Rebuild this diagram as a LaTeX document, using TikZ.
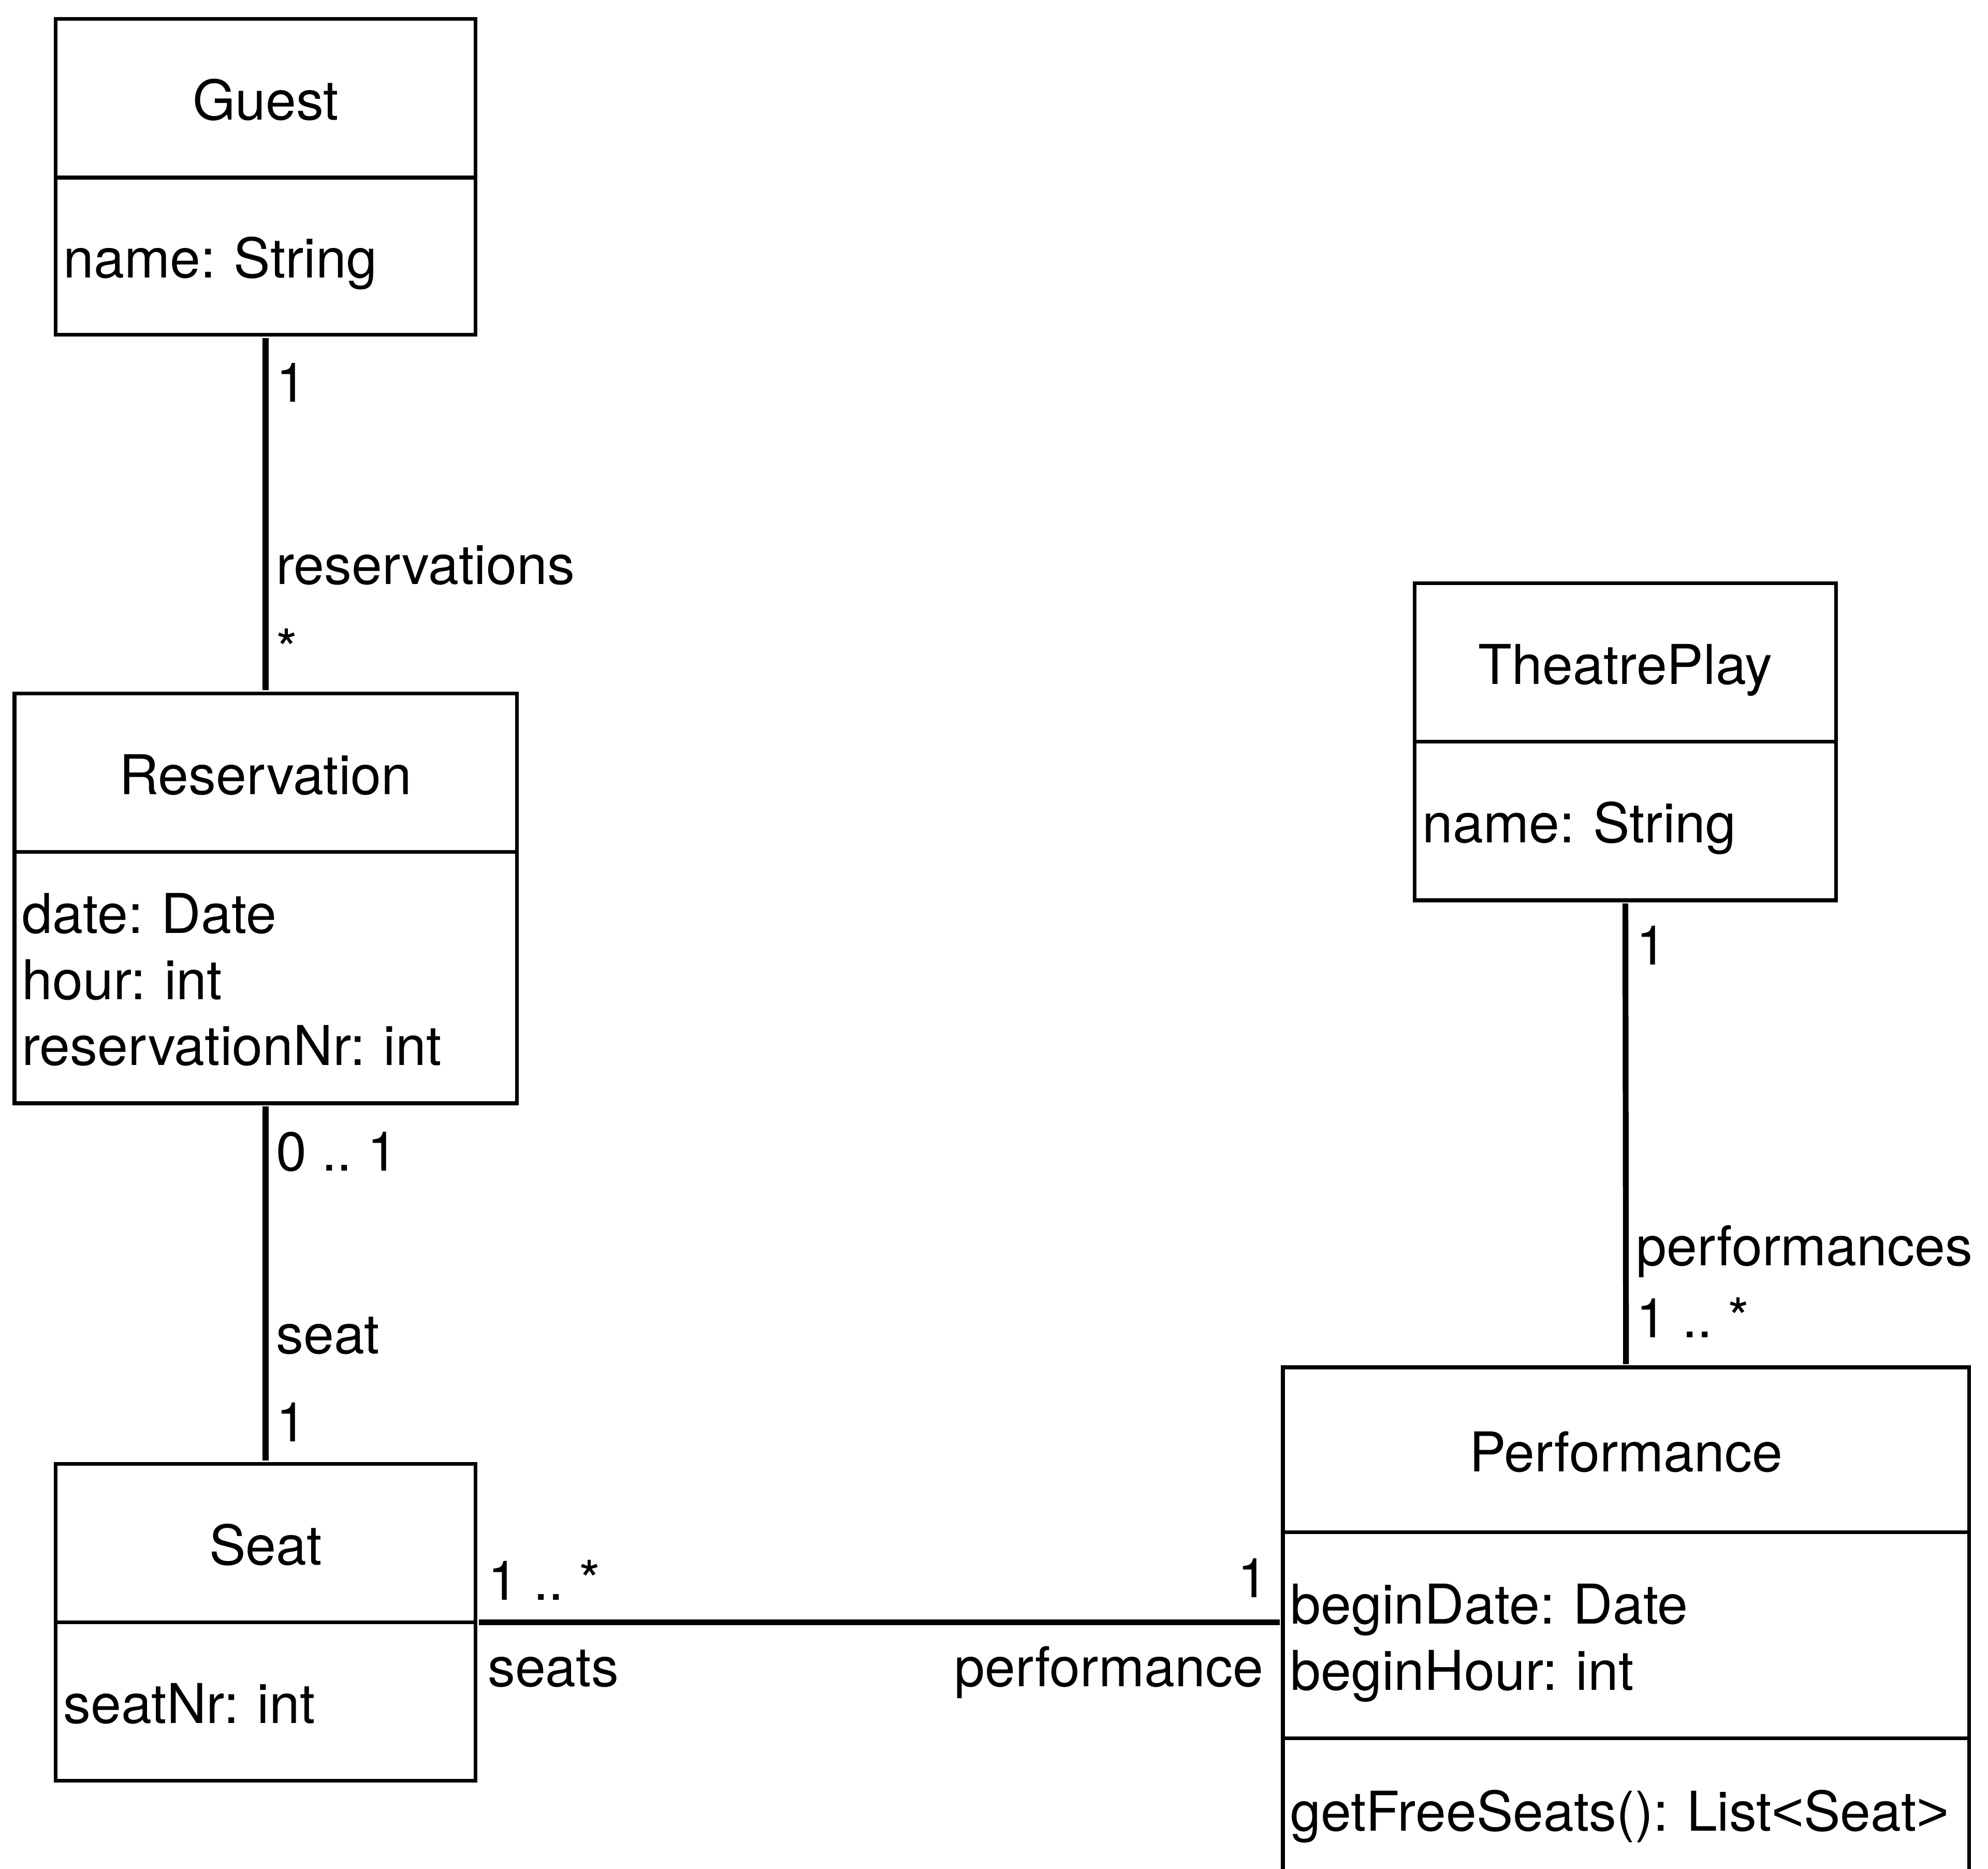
\documentclass[tikz,border=0pt]{standalone}
\usepackage{fontspec}
\setmainfont{TeX Gyre Heros}
\newfontfamily\brk{Liberation Sans}
\frenchspacing
\usepackage{tikz}
\usetikzlibrary{positioning}
\tikzset{
    classhead/.style={draw=black, line width=0.85pt, outer sep=0pt, inner sep=0pt, minimum height=1.25cm, text height=9.7pt, text depth=0pt},
    classbody/.style={draw=black, line width=0.85pt, outer sep=0pt, inner xsep=0.06cm, inner ysep=0pt, align=left, text width=#1, text height=9.7pt},
    assoc/.style={draw=black, line width=1.3pt, shorten <=0.025cm, shorten >=0.025cm},
    endlabel/.style={inner sep=0pt, anchor=base west},
    endlabelr/.style={inner sep=0pt, anchor=base east}
}

\begin{document}
\begin{tikzpicture}[x=0.01cm, y=-0.01cm, font=\fontsize{12.3}{14.8}\selectfont]
    \useasboundingbox (0,0) rectangle (1568,1474);
    \clip (0,0) rectangle (1568,1474);

    \node[classhead, minimum width=3.31cm] (guest) at (209.5,77.5) {Guest};
    \node[classbody=3.19cm, minimum height=1.24cm, text depth=0pt, below=0pt of guest] (guestb) {name: String};

    \node[classhead, minimum width=3.96cm] (resv) at (209.5,609.5) {Reservation};
    \node[classbody=3.84cm, minimum height=1.98cm, text depth=29.6pt, below=0pt of resv] (resvb) {date: Date\\hour: int\\reservationNr: int};

    \node[classhead, minimum width=3.31cm] (seat) at (209.5,1217) {Seat};
    \node[classbody=3.19cm, minimum height=1.25cm, text depth=0pt, below=0pt of seat] (seatb) {seatNr: int};

    \node[classhead, minimum width=3.32cm] (play) at (1282,522.5) {TheatrePlay};
    \node[classbody=3.20cm, minimum height=1.25cm, text depth=0pt, below=0pt of play] (playb) {name: String};

    \node[classhead, minimum width=5.41cm, minimum height=1.3cm] (perf) at (1282.5,1143.5) {Performance};
    \node[classbody=5.29cm, minimum height=1.625cm, text depth=14.8pt, below=0pt of perf] (perfb) {beginDate: Date\\beginHour: int};
    \node[classbody=5.29cm, minimum height=1.12cm, text depth=0pt, below=0pt of perfb] (perfm) {getFreeSeats(): List{\brk<}Seat{\brk>}};

    \draw[assoc] (guestb) -- (resv);
    \draw[assoc] (resvb) -- (seat);
    \draw[assoc] (playb.south) -- (perf.north);
    \draw[assoc] (seat.south east) -- (seat.south east -| perf.west);

    \node[endlabel] (gm) at (217,317) {1};
    \node[endlabel] (gr) at (217,461) {reservations};
    \node[endlabel] (rm) at (217,527.5) {*};

    \node[endlabel] (rsm) at (217,923.5) {0 .. 1};
    \node[endlabel] (rsr) at (217,1067.5) {seat};
    \node[endlabel] (sm) at (217,1137) {1};

    \node[endlabel] (pm) at (1290,761) {1};
    \node[endlabel] (pr) at (1290,998) {performances};
    \node[endlabel] (fm) at (1290,1055) {1 .. *};

    \node[endlabel] (ssm) at (384,1262) {1 .. *};
    \node[endlabel] (ssr) at (384,1330) {seats};
    \node[endlabelr] (spm) at (1001,1260) {1};
    \node[endlabelr] (spr) at (997,1330) {performance};
\end{tikzpicture}
\end{document}
